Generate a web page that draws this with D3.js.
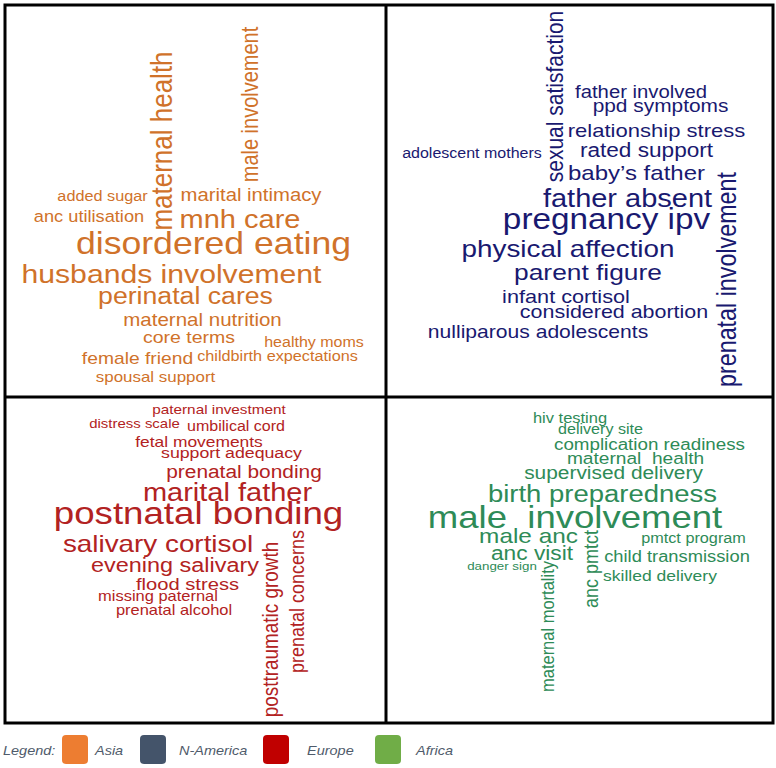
<!DOCTYPE html>
<html><head><meta charset="utf-8">
<script src="https://cdn.jsdelivr.net/npm/d3@7"></script>
<style>
html,body{margin:0;padding:0;background:#fff;}
svg{display:block;}
text{font-family:"Liberation Sans",Arial,Helvetica,sans-serif;white-space:pre;}
</style>
</head><body>
<svg id="chart" width="776" height="768"></svg>
<script>
// ---------- DATA ----------
const regionNames = ["Asia", "N-America", "Europe", "Africa"];

const asiaWords = ["added sugar","marital intimacy","anc utilisation","mnh care","disordered eating","husbands involvement","perinatal cares","maternal nutrition","core terms","healthy moms","female friend","childbirth expectations","spousal support","maternal health","male involvement"];
const asiaFreq  = [6, 9.5, 7.7, 17, 22.7, 18, 15, 9.7, 8.8, 5.8, 8.6, 6, 6.6, 18, 12];

const naWords = ["sexual satisfaction","father involved","ppd symptoms","relationship stress","rated support","adolescent mothers","baby\u2019s father","father absent","pregnancy ipv","physical affection","parent figure","infant cortisol","considered abortion","nulliparous adolescents","prenatal involvement"];
const naFreq  = [13, 9.5, 10, 11, 11.5, 5.8, 12.7, 17, 20.7, 16, 14.7, 10.7, 10.5, 10.2, 15.3];

const euWords = ["paternal investment","distress scale","umbilical cord","fetal movements","support adequacy","prenatal bonding","marital father","postnatal bonding","salivary cortisol","evening salivary","flood stress","missing paternal","prenatal alcohol","posttraumatic growth","prenatal concerns"];
const euFreq  = [5.2, 4.9, 5.8, 7, 7.3, 10, 17, 23.6, 16, 12.2, 9.4, 6.2, 6.2, 10.9, 10];

const afWords = ["hiv testing","delivery site","complication readiness","maternal  health","supervised delivery","birth preparedness","male  involvement","male anc","anc visit","danger sign","pmtct program","child transmission","skilled delivery","anc pmtct","maternal mortality"];
const afFreq  = [6.2, 5.9, 8.2, 8.5, 10, 15.7, 23.5, 13, 11.6, 3.5, 6, 7.8, 7.1, 10, 8.5];

// ---------- LAYOUT (word-cloud placement, panel units; r = rotation) ----------
const asiaLayout = [[97.5,196,0],[246,196,0],[84,217,0],[235,223,0],[208.5,249,0],[166.5,278,0],[180.5,299,0],[197.5,320.5,0],[184,338,0],[309,342,0],[132.5,359,0],[272.5,356,0],[150.5,377,0],[167,136,-90],[253,99.5,-90]];
const naLayout   = [[177,91.5,-90],[255,93,0],[274.5,107,0],[270.5,132,0],[260.5,152,0],[86,153,0],[250.5,175,0],[241.5,202,0],[220.5,224,0],[182,252,0],[202,275,0],[180,298,0],[228,313,0],[152,333,0],[350,274.5,-90]];
const euLayout   = [[214,17,0],[129.5,31,0],[231,34,0],[194,50,0],[226.5,61,0],[239,81,0],[222.5,104,0],[193.5,127,0],[153,155,0],[170,175,0],[182.5,193,0],[153,204,0],[169,218,0],[273,232.5,-90],[299,204.5,-90]];
const afLayout   = [[184,26,0],[214.5,37,0],[263.5,53,0],[249.5,67,0],[227.5,82,0],[216.5,105,0],[189,131,0],[142.5,146,0],[146,163,0],[116,173,0],[307.5,146,0],[291,165,0],[274,184,0],[212,172,-90],[168,229.5,-90]];

const textColors   = ["#D0722A", "#191970", "#B22222", "#2E8B57"];
const legendColors = ["#ED7D31", "#44546A", "#C00000", "#70AD47"];

// ---------- DRAW ----------
const svg = d3.select("#chart");
const K = 1.16; // horizontal stretch of the reference rendering

const frame = {x0: 5, x1: 773, y0: 5, y1: 723, xm: 386, ym: 397};
const panels = [
  {words: asiaWords, freq: asiaFreq, layout: asiaLayout, x: [frame.x0, frame.xm], y: [frame.y0, frame.ym]},
  {words: naWords,   freq: naFreq,   layout: naLayout,   x: [frame.xm, frame.x1], y: [frame.y0, frame.ym]},
  {words: euWords,   freq: euFreq,   layout: euLayout,   x: [frame.x0, frame.xm], y: [frame.ym, frame.y1]},
  {words: afWords,   freq: afFreq,   layout: afLayout,   x: [frame.xm, frame.x1], y: [frame.ym, frame.y1]}
];

const fontScale = d3.scaleLinear().domain([0, 30]).range([8, 38]);

panels.forEach((p, i) => {
  const xs = d3.scaleLinear().domain([0, p.x[1] - p.x[0]]).range(p.x);
  const ys = d3.scaleLinear().domain([0, p.y[1] - p.y[0]]).range(p.y);
  const data = p.words.map((w, j) => ({text: w, v: p.freq[j], pos: p.layout[j]}));
  svg.append("g").selectAll("text").data(data).join("text")
    .attr("xml:space", "preserve")
    .attr("text-anchor", "middle")
    .attr("fill", textColors[i])
    .attr("font-size", d => fontScale(d.v))
    .attr("transform", d => `translate(${xs(d.pos[0])},${ys(d.pos[1])}) scale(${K},1)` + (d.pos[2] ? ` rotate(${d.pos[2]})` : ""))
    .text(d => d.text);
});

// frame
svg.append("rect").attr("x", frame.x0).attr("y", frame.y0)
  .attr("width", frame.x1 - frame.x0).attr("height", frame.y1 - frame.y0)
  .attr("fill", "none").attr("stroke", "#000").attr("stroke-width", 3);
svg.append("line").attr("x1", frame.xm).attr("x2", frame.xm).attr("y1", frame.y0).attr("y2", frame.y1)
  .attr("stroke", "#000").attr("stroke-width", 3);
svg.append("line").attr("x1", frame.x0).attr("x2", frame.x1).attr("y1", frame.ym).attr("y2", frame.ym)
  .attr("stroke", "#000").attr("stroke-width", 3);

// legend
const legSwatchX = [62, 140, 263, 375];
const legTextX = [95, 179, 307, 416];
const lg = svg.append("g");
lg.append("text").attr("transform", `translate(3,755) scale(${K},1)`)
  .attr("font-size", 12.5).attr("font-style", "italic").attr("fill", "#4f5b6b").text("Legend:");
const items = lg.selectAll("g.item").data(regionNames).join("g").attr("class", "item");
items.append("rect").attr("x", (d, i) => legSwatchX[i]).attr("y", 735).attr("width", 26).attr("height", 29)
  .attr("rx", 4).attr("fill", (d, i) => legendColors[i]);
items.append("text").attr("transform", (d, i) => `translate(${legTextX[i]},755) scale(${K},1)`)
  .attr("font-size", 12.5).attr("font-style", "italic").attr("fill", "#4f5b6b").text(d => d);
</script>
</body></html>
